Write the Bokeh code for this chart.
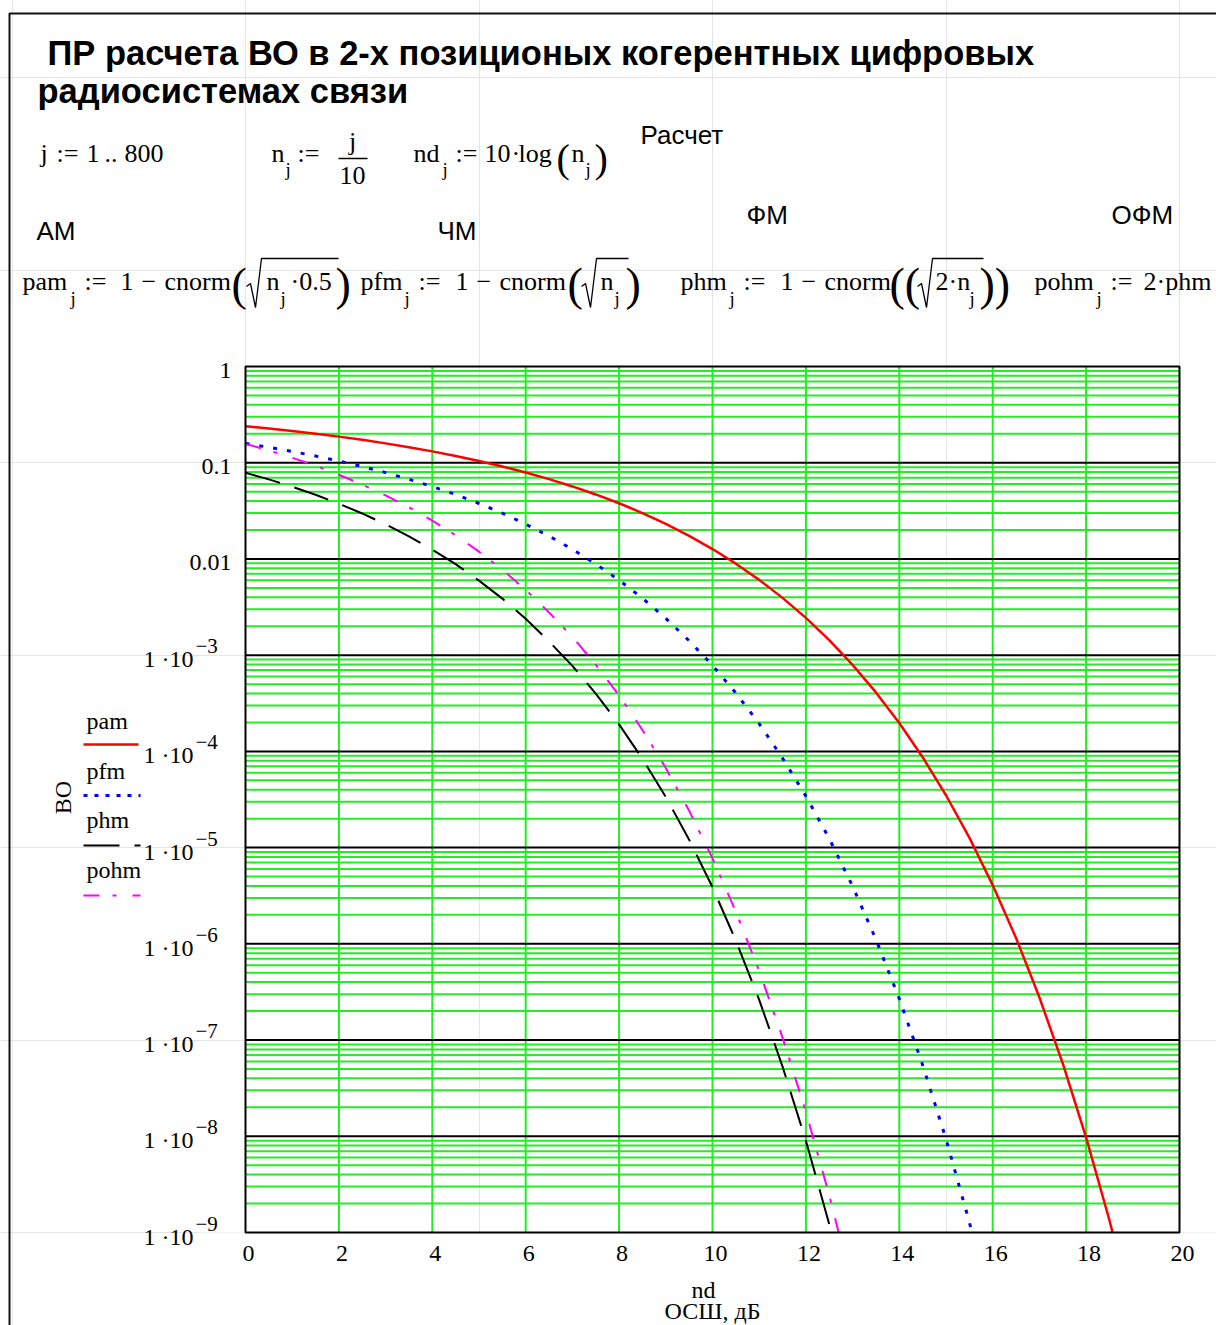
from bokeh.plotting import figure
from bokeh.models import Range1d, LinearScale
from bokeh.core.properties import value
from bokeh.embed import file_html
from bokeh.resources import INLINE

# ---------------- data: error probability vs SNR (dB) ----------------
nd_am = [0.0, 0.5, 1.0, 1.5, 2.0, 2.5, 3.0, 3.5, 4.0, 4.5, 5.0, 5.5, 6.0, 6.5,
         7.0, 7.5, 8.0, 8.5, 9.0, 9.5, 10.0, 10.5, 11.0, 11.5, 12.0, 12.5, 13.0,
         13.5, 14.0, 14.5, 15.0, 15.5, 16.0, 16.5, 17.0, 17.5, 18.0, 18.5, 19.0]
pam = [0.2398, 0.2270, 0.2138, 0.2003, 0.1867, 0.1729, 0.1589, 0.1450, 0.1312,
       0.1176, 0.1043, 0.0915, 0.0791, 0.0675, 0.0567, 0.0468, 0.0379, 0.0300,
       0.0231, 0.0174, 0.01267, 0.00893, 0.00606, 0.00394, 0.00244, 0.00143,
       7.93e-4, 4.10e-4, 1.97e-4, 8.7e-5, 3.5e-5, 1.27e-5, 4.08e-6, 1.15e-6,
       2.78e-7, 5.71e-8, 9.73e-9, 1.34e-9, 1.47e-10]

nd_fm = [0.0, 0.5, 1.0, 1.5, 2.0, 2.5, 3.0, 3.5, 4.0, 4.5, 5.0, 5.5, 6.0, 6.5,
         7.0, 7.5, 8.0, 8.5, 9.0, 9.5, 10.0, 10.5, 11.0, 11.5, 12.0, 12.5, 13.0,
         13.5, 14.0, 14.5, 15.0, 15.5, 16.0]
pfm = [0.1587, 0.1447, 0.1309, 0.1174, 0.1040, 0.0913, 0.0789, 0.0673, 0.0565,
       0.0467, 0.0377, 0.0299, 0.0230, 0.0173, 0.01259, 0.00888, 0.00601,
       0.00391, 0.00241, 0.00141, 7.83e-4, 4.04e-4, 1.94e-4, 8.5e-5, 3.43e-5,
       1.24e-5, 3.97e-6, 1.11e-6, 2.69e-7, 5.5e-8, 9.36e-9, 1.28e-9, 1.40e-10]

nd_pm = [0.0, 0.5, 1.0, 1.5, 2.0, 2.5, 3.0, 3.5, 4.0, 4.5, 5.0, 5.5, 6.0, 6.5,
         7.0, 7.5, 8.0, 8.5, 9.0, 9.5, 10.0, 10.5, 11.0, 11.5, 12.0, 12.5, 13.0]
phm = [0.0786, 0.0671, 0.0563, 0.0465, 0.0375, 0.0297, 0.0229, 0.0172, 0.0125,
       0.00882, 0.00595, 0.00387, 0.00239, 0.00139, 7.73e-4, 3.98e-4, 1.91e-4,
       8.35e-5, 3.36e-5, 1.21e-5, 3.87e-6, 1.08e-6, 2.62e-7, 5.3e-8, 9.0e-9,
       1.22e-9, 1.33e-10]
pohm = [0.157, 0.1342, 0.1126, 0.0930, 0.0750, 0.0594, 0.0458, 0.0344, 0.0250,
        0.01764, 0.0119, 0.00774, 0.00478, 0.00278, 0.00155, 7.96e-4, 3.82e-4,
        1.67e-4, 6.72e-5, 2.42e-5, 7.74e-6, 2.16e-6, 5.24e-7, 1.06e-7, 1.8e-8,
        2.44e-9, 2.66e-10]

x_ticks = [0, 2, 4, 6, 8, 10, 12, 14, 16, 18, 20]
y_decades = [0, -1, -2, -3, -4, -5, -6, -7, -8, -9]
y_plain_labels = {0: "1", -1: "0.1", -2: "0.01"}
minor_mult = [2, 3, 4, 5, 6, 7, 8, 9]

# ---------------- page geometry (pixels) ----------------
W, H = 1216, 1325
BX0, BX1 = 245, 1179          # plot box, left/right
BY0, BY1 = 366, 1232          # plot box, top/bottom
XMIN, XMAX = 0.0, 20.0
LTOP, LBOT = 0.0, -9.0        # log10 of the y limits

sx = (XMAX - XMIN) / (BX1 - BX0)
sy = (LTOP - LBOT) / (BY1 - BY0)
x_range = Range1d(XMIN - BX0 * sx, XMIN + (W - BX0) * sx)
y_range = Range1d(10 ** (LBOT - (H - BY1) * sy), 10 ** (LTOP + BY0 * sy))

p = figure(width=W, height=H, x_range=x_range, y_range=y_range,
           y_axis_type="log", x_axis_location=None, y_axis_location=None,
           toolbar_location=None, output_backend="svg", min_border=0)
p.outline_line_color = None
p.background_fill_color = "white"
p.border_fill_color = "white"
p.extra_x_ranges = {"px": Range1d(0, W)}
p.extra_y_ranges = {"px": Range1d(H, 0)}
p.extra_x_scales = {"px": LinearScale()}
p.extra_y_scales = {"px": LinearScale()}

SERIF = "Liberation Serif"
SANS = "Liberation Sans"
GREEN = "#22ee22"
YTOP, YBOT = 10 ** LTOP, 10 ** LBOT
M = 26      # formula font size
S = 19      # subscript font size


def txt(x, y, s, size=M, font=SERIF, style="normal", align="left",
        baseline="middle", color="black", angle=0.0,
        xr="px", yr="px", x_off=0, y_off=0):
    p.text(x=[x], y=[y], text=[s], text_font=value(font),
           text_font_size=f"{size}px", text_font_style=style,
           text_align=align, text_baseline=baseline, text_color=color,
           angle=angle, x_offset=x_off, y_offset=y_off,
           x_range_name=xr, y_range_name=yr)


def pxline(xs, ys, color="black", width=1.5, dash="solid"):
    p.line(x=xs, y=ys, line_color=color, line_width=width, line_dash=dash,
           x_range_name="px", y_range_name="px")


def radical(x0, x_end, top, mid, bottom):
    pxline([x0, x0 + 4, x0 + 9, x0 + 15, x_end],
           [mid, mid - 3, bottom, top, top], width=1.3)


# ---------------- worksheet border ----------------
pxline([9, 9, W], [H, 13, 13], color="#111111", width=2)

# ---------------- heading ----------------
txt(47, 52, "ПР расчета ВО в 2-х позиционых когерентных цифровых",
    size=34.5, font=SANS, style="bold")
txt(37, 90, "радиосистемах связи", size=34.5, font=SANS, style="bold")

# j := 1..800
R1 = 153
txt(40, R1, "j")
txt(56, R1, ":=")
txt(86, R1, "1")
txt(104, R1, "..")
txt(124, R1, "800")
# n_j := j/10
txt(271, R1, "n")
txt(285, R1 + 16, "j", size=S)
txt(297, R1, ":=")
txt(352, 141, "j", align="center")
pxline([338, 367], [158, 158], width=1.5)
txt(352, 175, "10", align="center")
# nd_j := 10 log(n_j)
txt(413, R1, "nd")
txt(442, R1 + 16, "j", size=S)
txt(455, R1, ":=")
txt(484, R1, "10")
txt(511, R1, "·")
txt(518, R1, "log")
txt(556, R1 + 5, "(", size=40)
txt(571, R1, "n")
txt(585, R1 + 16, "j", size=S)
txt(594, R1 + 5, ")", size=40)
txt(640, 134, "Расчет", size=26, font=SANS)

# modulation names
txt(36, 230, "АМ", size=26, font=SANS)
txt(437, 230, "ЧМ", size=26, font=SANS)
txt(746, 214, "ФМ", size=26, font=SANS)
txt(1111, 214, "ОФМ", size=26, font=SANS)

# formulas
B = 281
SUB = B + 17
PAR = B + 3
RT, RM, RB = 258, 286, 307
# pam
txt(22, B, "pam")
txt(70, SUB, "j", size=S)
txt(84, B, ":=")
txt(120, B, "1")
txt(141, B, "−")
txt(164, B, "cnorm")
txt(231, PAR, "(", size=46)
radical(246, 338, RT, RM, RB)
txt(266, B, "n")
txt(280, SUB, "j", size=S)
txt(290, B, "·0.5")
txt(335, PAR, ")", size=46)
# pfm
txt(360, B, "pfm")
txt(404, SUB, "j", size=S)
txt(418, B, ":=")
txt(455, B, "1")
txt(476, B, "−")
txt(499, B, "cnorm")
txt(567, PAR, "(", size=46)
radical(581, 628, RT, RM, RB)
txt(600, B, "n")
txt(614, SUB, "j", size=S)
txt(625, PAR, ")", size=46)
# phm
txt(680, B, "phm")
txt(729, SUB, "j", size=S)
txt(743, B, ":=")
txt(780, B, "1")
txt(801, B, "−")
txt(824, B, "cnorm")
txt(889, PAR, "((", size=46)
radical(917, 983, RT, RM, RB)
txt(935, B, "2·n")
txt(969, SUB, "j", size=S)
txt(979, PAR, "))", size=46)
# pohm
txt(1034, B, "pohm")
txt(1096, SUB, "j", size=S)
txt(1110, B, ":=")
txt(1143, B, "2·phm")

# ---------------- grid ----------------
minor_y = [m * 10 ** d for d in y_decades[1:] for m in minor_mult]
major_y = [10 ** d for d in y_decades[1:-1]]
p.segment(x0=[XMIN] * len(minor_y), x1=[XMAX] * len(minor_y),
          y0=minor_y, y1=minor_y, line_color=GREEN, line_width=2)
inner_x = x_ticks[1:-1]
p.segment(x0=inner_x, x1=inner_x, y0=[YBOT] * len(inner_x),
          y1=[YTOP] * len(inner_x), line_color=GREEN, line_width=2)
p.segment(x0=[XMIN] * len(major_y), x1=[XMAX] * len(major_y),
          y0=major_y, y1=major_y, line_color="black", line_width=2)

# ---------------- curves ----------------
p.line(nd_am, pam, line_color="#ff0000", line_width=2.5)
p.line(nd_fm, pfm, line_color="#0000ff", line_width=3, line_dash="4 10")
p.line(nd_pm, phm, line_color="black", line_width=2, line_dash="36 15")
p.line(nd_pm, pohm, line_color="#ff00ff", line_width=2,
       line_dash="16 13 4 16")

# blank strip below the box hides the tails under 1e-9
p.quad(left=[XMIN - 1], right=[XMAX + 1], top=[YBOT], bottom=[y_range.start],
       fill_color="white", line_color=None)
# plot box
p.quad(left=[XMIN], right=[XMAX], top=[YTOP], bottom=[YBOT],
       fill_color=None, line_color="black", line_width=2)

# ---------------- tick labels ----------------
for d in y_decades:
    if d in y_plain_labels:
        txt(231, 10 ** d, y_plain_labels[d], size=24, align="right",
            yr="default", y_off=4)
    else:
        txt(193, 10 ** d, "1 ·10", size=24, align="right",
            yr="default", y_off=4)
        txt(195, 10 ** d, "−" + str(-d), size=21, align="left",
            yr="default", y_off=-9)

for t in x_ticks:
    txt(t, 1253, str(t), size=24, align="center", xr="default", x_off=3)

txt(703, 1289, "nd", size=24, align="center")
txt(712, 1310, "ОСШ, дБ", size=24, align="center")
txt(62, 797, "ВО", size=24, align="center", angle=1.5707963)

# ---------------- legend ----------------
txt(86, 720, "pam", size=24)
pxline([83, 138], [744, 744], color="#ff0000", width=2.5)
txt(86, 770, "pfm", size=24)
pxline([83, 140], [795, 795], color="#0000ff", width=3, dash="4 7")
txt(86, 819, "phm", size=24)
pxline([83, 140], [845, 845], color="black", width=2, dash="36 15")
txt(86, 869, "pohm", size=24)
pxline([83, 140], [895, 895], color="#ff00ff", width=2,
       dash="16 13 4 16")

open("out.html", "w").write(file_html(p, INLINE))
